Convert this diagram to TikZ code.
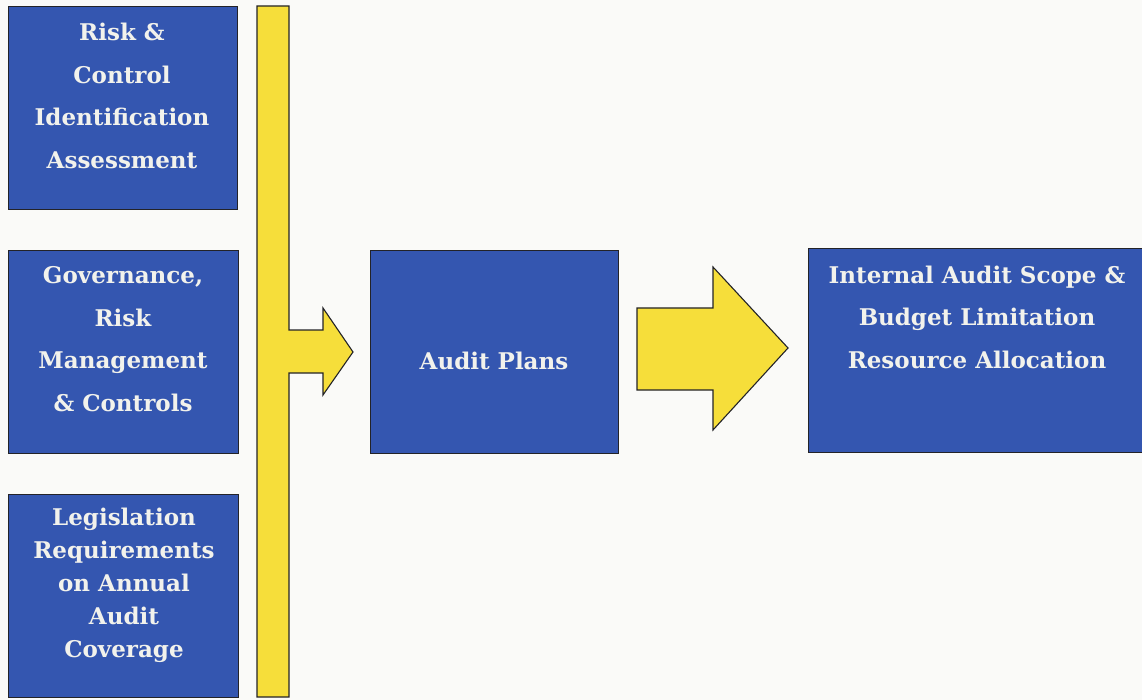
\documentclass[tikz,border=0pt]{standalone}
\usepackage{fontspec}
\setmainfont{DejaVu Serif}
\definecolor{bg}{RGB}{250,250,248}
\definecolor{boxblue}{RGB}{52,86,176}
\definecolor{arrowyellow}{RGB}{246,222,58}
\definecolor{txt}{RGB}{242,242,236}
\definecolor{edge}{RGB}{35,35,40}
\begin{document}
\begin{tikzpicture}[x=1pt,y=-1pt,
  bluebox/.style={draw=edge,line width=1.2pt,fill=boxblue,inner sep=0pt,anchor=north west},
  boxtext/.style={text=txt,font=\bfseries\fontsize{23}{42.5}\selectfont,align=center,inner sep=0pt},
  yellowshape/.style={draw=edge,line width=1.1pt,fill=arrowyellow,line join=miter}]
\useasboundingbox (0,0) rectangle (1142,700);
\fill[bg] (0,0) rectangle (1142,700);
% boxes
\node[bluebox,minimum width=229pt,minimum height=203pt] (b1) at (8,6) {};
\node[bluebox,minimum width=230pt,minimum height=203pt] (b2) at (8,250) {};
\node[bluebox,minimum width=230pt,minimum height=203pt] (b3) at (8,494) {};
\node[bluebox,minimum width=248pt,minimum height=203pt] (ap) at (370,250) {};
\node[bluebox,minimum width=334pt,minimum height=204pt] (ia) at (808,248) {};
% texts
\node[boxtext] (t1) at (122,96) {Risk \&\\Control\\Identification\\Assessment};
\node[boxtext] (t2) at (123,339) {Governance,\\Risk\\Management\\\& Controls};
\node[boxtext,font=\bfseries\fontsize{23}{33}\selectfont] (t3) at (124,585) {Legislation\\Requirements\\on Annual\\Audit\\Coverage};
\node[boxtext] (tap) at (494,361) {Audit Plans};
\node[boxtext] (tia) at (977,317) {Internal Audit Scope \&\\Budget Limitation\\Resource Allocation};
% yellow bar with branch arrow into Audit Plans
\draw[yellowshape] (257,6) -- (289,6) -- (289,330) -- (323,330) -- (323,308)
  -- (353,352) -- (323,395) -- (323,373) -- (289,373) -- (289,697) -- (257,697) -- cycle;
% big arrow from Audit Plans to Internal Audit box
\draw[yellowshape] (637,308) -- (713,308) -- (713,267) -- (788,348) -- (713,430)
  -- (713,390) -- (637,390) -- cycle;
\end{tikzpicture}
\end{document}
